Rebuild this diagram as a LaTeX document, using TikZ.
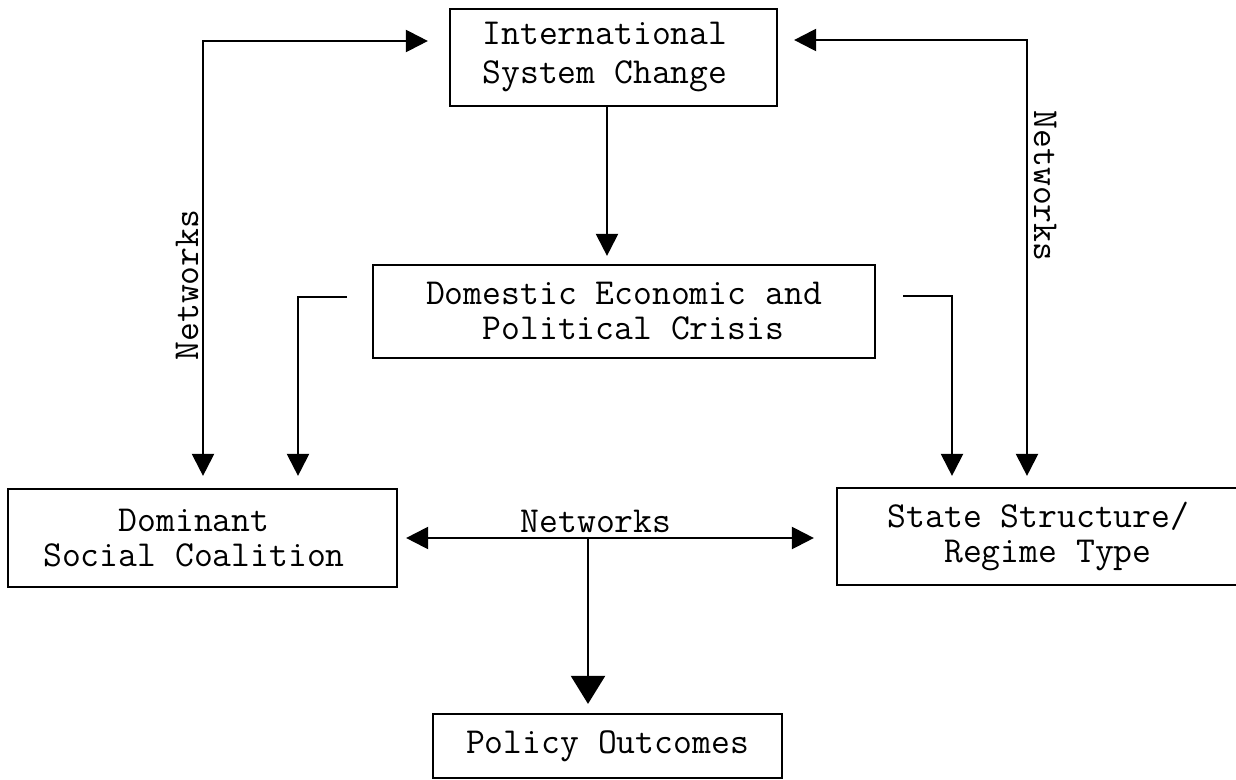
\documentclass[tikz,border=0pt]{standalone}
\usepackage{fontspec}
\usetikzlibrary{arrows.meta}
\begin{document}
\begin{tikzpicture}[x=1pt,y=-1pt,
  box/.style={draw,line width=2.2pt,inner sep=0pt,align=center,
    font=\ttfamily\fontsize{36.6}{35}\selectfont},
  conn/.style={line width=2.2pt},
  tip/.style={-{Triangle[length=22pt,width=22pt]}},
  tips/.style={{Triangle[length=22pt,width=22pt]}-{Triangle[length=22pt,width=22pt]}},
  bigtip/.style={-{Triangle[length=28pt,width=34pt]}},
  lbl/.style={font=\ttfamily\fontsize{36.6}{35}\selectfont,inner sep=0pt}]
\clip (0,0) rectangle (1236,779);
\fill[white] (0,0) rectangle (1236,779);

% boxes
\node[box,minimum width=327pt,minimum height=97pt,
      font=\ttfamily\fontsize{36.6}{39}\selectfont] (isc) at (613.5,57.5)
  {International\hspace*{17pt}\\System Change\hspace*{17pt}};
\node[box,minimum width=502pt,minimum height=93pt] (des) at (624,311.5)
  {Domestic Economic and\\\hphantom{x}Political Crisis};
\node[box,minimum width=389pt,minimum height=98pt] (dom) at (202.5,538)
  {Dominant\hspace*{17pt}\\Social Coalition\hspace*{17pt}};
\node[box,minimum width=403pt,minimum height=97pt] (sts) at (1038.5,536.5)
  {State Structure/\\\hphantom{x}Regime Type};
\node[box,minimum width=349pt,minimum height=64pt] (pol) at (607.5,746)
  {Policy Outcomes};

% connector coordinates
\coordinate (lc) at (203,41);
\coordinate (rc) at (1027,40);
\coordinate (cx) at (607,0);
\coordinate (dl) at (347,297);
\coordinate (dlc) at (298,297);
\coordinate (dr) at (903,296);
\coordinate (drc) at (952,296);
\coordinate (mc) at (588,537);

% connectors
\draw[conn,tips,shorten <=12pt,shorten >=21pt]
  (lc |- dom.north) -- (lc) -- (lc -| isc.west);
\draw[conn,tips,shorten <=11pt,shorten >=16pt]
  (rc |- sts.north) -- (rc) -- (rc -| isc.east);
\draw[conn,tip,shorten >=8pt] (isc.south -| cx) -- (des.north -| cx);
\draw[conn,tip,shorten >=12pt] (dl) -- (dlc) -- (dlc |- dom.north);
\draw[conn,tip,shorten >=11pt] (dr) -- (drc) -- (drc |- sts.north);
\draw[conn,tips,shorten <=8pt,shorten >=22pt] (dom.east) -- (dom.east -| sts.west);
\draw[conn,bigtip,shorten >=9pt] (mc) -- (mc |- pol.north);

% labels
\node[lbl,anchor=base] (n1) at (596,532) {Networks};
\node[lbl,anchor=base,rotate=90] (n2) at (198,285) {Networks};
\node[lbl,anchor=base,rotate=-90] (n3) at (1034,186) {Networks};
\end{tikzpicture}
\end{document}
